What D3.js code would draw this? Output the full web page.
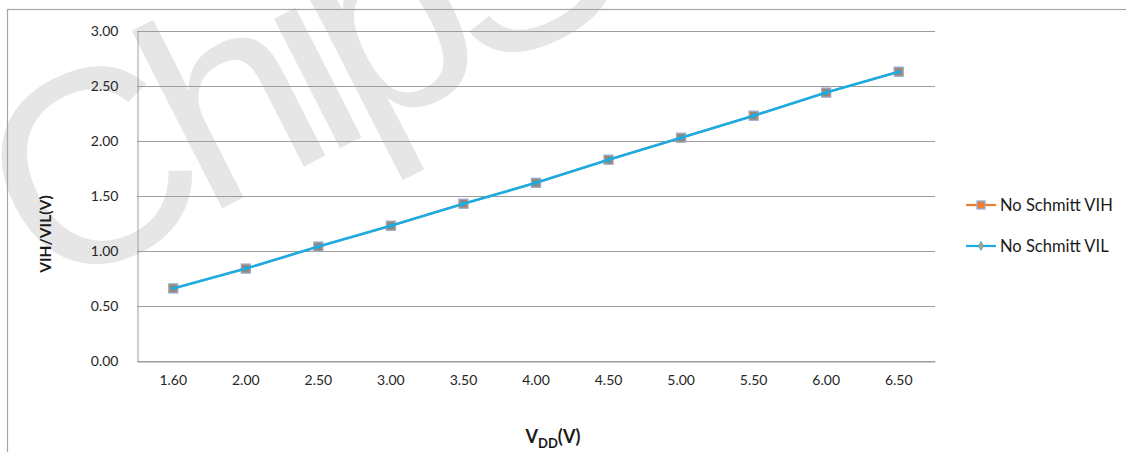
<!DOCTYPE html>
<html>
<head>
<meta charset="utf-8">
<script src="https://cdn.jsdelivr.net/npm/d3@7"></script>
<style>
  body { margin: 0; background: #fff; }
  svg { display: block; font-family: Lato, "Open Sans", sans-serif; }
</style>
</head>
<body>
<div id="container"></div>
<script>
// data
let vdd = ["1.60", "2.00", "2.50", "3.00", "3.50", "4.00", "4.50", "5.00", "5.50", "6.00", "6.50"];
let vih = [0.66, 0.84, 1.04, 1.23, 1.43, 1.62, 1.83, 2.03, 2.23, 2.44, 2.63];
let vil = [0.66, 0.84, 1.04, 1.23, 1.43, 1.62, 1.83, 2.03, 2.23, 2.44, 2.63];
let yTicks = [0, 0.5, 1, 1.5, 2, 2.5, 3];
let seriesNames = ["No Schmitt VIH", "No Schmitt VIL"];

let w = 1126;
let h = 452;
let plotLeft = 137, plotRight = 935, plotTop = 31, plotBottom = 361;

let viz = d3.select("#container")
  .append("svg")
    .attr("width", w)
    .attr("height", h)
;

// watermark behind everything
viz.append("text")
  .text("ChipSea")
  .attr("transform", "translate(46,298) rotate(-27)")
  .attr("font-family", "Liberation Sans, Arial, sans-serif")
  .attr("font-size", 275)
  .attr("letter-spacing", -20)
  .attr("fill", "#e6e6e6")
;

// outer chart frame
viz.append("rect")
  .attr("x", 7.5).attr("y", 9.5)
  .attr("width", w).attr("height", h)
  .attr("fill", "none")
  .attr("stroke", "#a6a6a6")
  .attr("stroke-width", 1.2)
;

let xScale = d3.scaleBand().domain(vdd).range([plotLeft, plotRight]).padding(0);
let yScale = d3.scaleLinear().domain([0, 3]).range([plotBottom, plotTop]);

// gridlines
viz.append("g").selectAll("line").data(yTicks).enter()
  .append("line")
    .attr("x1", plotLeft).attr("x2", plotRight)
    .attr("y1", d => yScale(d) + 0.5).attr("y2", d => yScale(d) + 0.5)
    .attr("stroke", "#9d9d9d")
    .attr("stroke-width", 1)
;

// y axis
let yAxis = d3.axisLeft(yScale).tickValues(yTicks).tickFormat(d3.format(".2f")).tickSize(0).tickPadding(19);
let yAxisGroup = viz.append("g").attr("transform", "translate(" + (plotLeft + 0.5) + ",0)").call(yAxis);
yAxisGroup.select(".domain").attr("stroke", "#9d9d9d");
yAxisGroup.selectAll("text").attr("font-size", 14).attr("fill", "#262626").attr("font-family", "Lato, sans-serif");

// x axis
let xAxis = d3.axisBottom(xScale).tickSize(0).tickPadding(14);
let xAxisGroup = viz.append("g").attr("transform", "translate(0," + (plotBottom + 0.5) + ")").call(xAxis);
xAxisGroup.select(".domain").attr("stroke", "#9d9d9d");
xAxisGroup.selectAll("text").attr("font-size", 14).attr("fill", "#262626").attr("font-family", "Lato, sans-serif");

// axis titles
viz.append("text")
  .attr("transform", "translate(51,234) rotate(-90)")
  .attr("text-anchor", "middle")
  .attr("font-size", 15.5)
  .attr("font-weight", "bold")
  .attr("fill", "#1a1a1a")
  .text("VIH/VIL(V)")
;
let xt = viz.append("text")
  .attr("x", 553).attr("y", 443)
  .attr("text-anchor", "middle")
  .attr("font-size", 18)
  .attr("font-weight", "bold")
  .attr("fill", "#1a1a1a");
xt.append("tspan").text("V");
xt.append("tspan").text("DD").attr("font-size", 13).attr("dy", 5);
xt.append("tspan").text("(V)").attr("dy", -5);

let cx = (d, i) => xScale(vdd[i]) + xScale.bandwidth() / 2;
let line = d3.line().x(cx).y(d => yScale(d));

let orange = "#ed7d31", cyan = "#1cace4";

// VIH series
viz.append("path").datum(vih)
  .attr("d", line)
  .attr("fill", "none").attr("stroke", orange).attr("stroke-width", 2);
viz.append("g").selectAll("rect").data(vih).enter()
  .append("rect")
    .attr("x", (d, i) => cx(d, i) - 4.5)
    .attr("y", d => yScale(d) - 4.5)
    .attr("width", 9).attr("height", 9)
    .attr("fill", "#b77d55")
    .attr("stroke", "#94add0")
    .attr("stroke-width", 1.3)
;

// VIL series
viz.append("path").datum(vil)
  .attr("d", line)
  .attr("fill", "none").attr("stroke", cyan).attr("stroke-width", 2.6);
viz.append("g").selectAll("path.dia").data(vil).enter()
  .append("path")
    .attr("class", "dia")
    .attr("d", d3.symbol().type(d3.symbolDiamond).size(18))
    .attr("transform", (d, i) => "translate(" + cx(d, i) + "," + yScale(d) + ")")
    .attr("fill", cyan)
;

// legend
let legendY = [205, 246];
let lg = viz.append("g").selectAll("g").data(seriesNames).enter()
  .append("g")
    .attr("transform", (d, i) => "translate(966," + legendY[i] + ")");
lg.append("line")
  .attr("x1", 0).attr("x2", 30)
  .attr("stroke", (d, i) => i == 0 ? orange : cyan)
  .attr("stroke-width", 2.2);
lg.filter((d, i) => i == 0).append("rect")
  .attr("x", 11).attr("y", -4).attr("width", 8).attr("height", 8)
  .attr("fill", orange).attr("stroke", "#8faadc").attr("stroke-width", 1.2);
lg.filter((d, i) => i == 1).append("path")
  .attr("d", d3.symbol().type(d3.symbolDiamond).size(22))
  .attr("transform", "translate(15,0)")
  .attr("fill", "#c99a6a").attr("stroke", cyan).attr("stroke-width", 0.8);
lg.append("text")
  .attr("x", 34).attr("y", 5.5)
  .attr("font-size", 16.5)
  .attr("fill", "#1a1a1a")
  .text(d => d)
;
</script>
</body>
</html>
